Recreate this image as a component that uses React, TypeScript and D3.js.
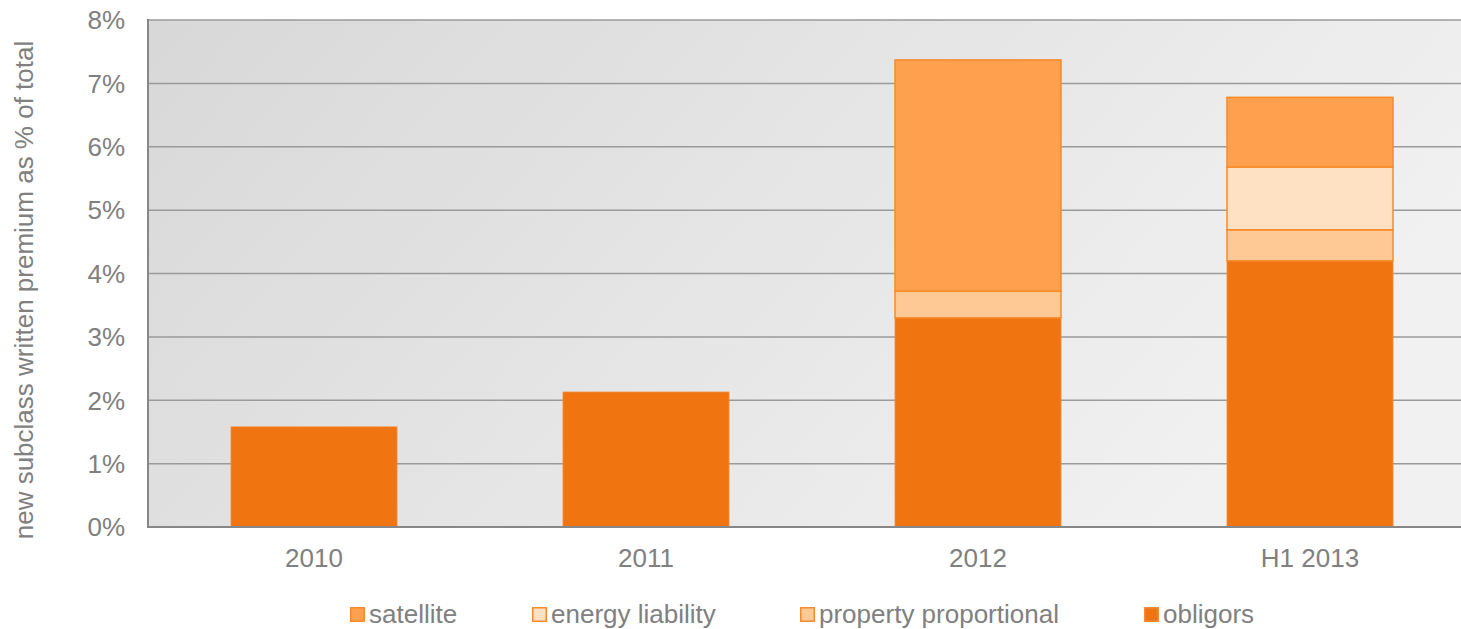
import React from "react";
import * as d3 from "d3";

const categories = ["2010", "2011", "2012", "H1 2013"];
const obligors = [1.58, 2.13, 3.3, 4.2];
const propertyProportional = [0, 0, 0.42, 0.49];
const energyLiability = [0, 0, 0, 0.99];
const satellite = [0, 0, 3.65, 1.1];
const yTicks = [0, 1, 2, 3, 4, 5, 6, 7, 8];

const seriesKeys = ["obligors", "propertyProportional", "energyLiability", "satellite"];
const seriesFill: Record<string, string> = {
  obligors: "#f07510",
  propertyProportional: "#fec994",
  energyLiability: "#fee1c3",
  satellite: "#fea04d",
};
const seriesStroke: Record<string, string> = {
  obligors: "#f58a3a",
  propertyProportional: "#f78a2a",
  energyLiability: "#f78a2a",
  satellite: "#f78a2a",
};
const legendItems = [
  { key: "satellite", label: "satellite", x: 350 },
  { key: "energyLiability", label: "energy liability", x: 532 },
  { key: "propertyProportional", label: "property proportional", x: 800 },
  { key: "obligors", label: "obligors", x: 1144 },
];

const W = 1461;
const H = 629;
const left = 148;
const top = 20;
const bottom = 527;
const right = 1476;

export default function App() {
  const table = categories.map((c, i) => ({
    cat: c,
    obligors: obligors[i],
    propertyProportional: propertyProportional[i],
    energyLiability: energyLiability[i],
    satellite: satellite[i],
  }));
  const stacked = d3.stack<any>().keys(seriesKeys)(table);

  const x = d3.scaleBand<string>().domain(categories).range([left, right]).paddingInner(0.5).paddingOuter(0.25);
  const y = d3.scaleLinear().domain([0, 8]).range([bottom, top]);
  const font = "Arial, 'Liberation Sans', sans-serif";
  const fs = 26;

  return (
    <svg width={W} height={H} style={{ position: "absolute", left: 0, top: 0, display: "block" }} fontFamily={font}>
      <defs>
        <linearGradient id="bg" x1="0" y1="0" x2="1" y2="0.35">
          <stop offset="0" stopColor="#d8d8d8" />
          <stop offset="1" stopColor="#f1f1f1" />
        </linearGradient>
      </defs>
      <rect x={left} y={top} width={right - left} height={bottom - top} fill="url(#bg)" />
      {yTicks.map((t) => (
        <line key={t} x1={left} x2={right} y1={y(t)} y2={y(t)} stroke="#9a9a9a" strokeWidth={1.5} />
      ))}
      {stacked.map((s) => (
        <g key={s.key}>
          {s.map((d, i) => {
            const h = y(d[0]) - y(d[1]);
            if (h <= 0) return null;
            return (
              <rect
                key={i}
                x={x(categories[i])!}
                y={y(d[1])}
                width={x.bandwidth()}
                height={h}
                fill={seriesFill[s.key]}
                stroke={seriesStroke[s.key]}
                strokeWidth={s.key === "obligors" ? 0.8 : 1.5}
              />
            );
          })}
        </g>
      ))}
      <line x1={left} x2={left} y1={top - 1} y2={bottom + 1} stroke="#878787" strokeWidth={2} />
      <line x1={left - 1} x2={right} y1={bottom} y2={bottom} stroke="#878787" strokeWidth={2} />
      {yTicks.map((t) => (
        <text key={t} x={125} y={y(t)} dy="0.36em" textAnchor="end" fontSize={fs} fill="#808080">
          {t}%
        </text>
      ))}
      {categories.map((c) => (
        <text key={c} x={x(c)! + x.bandwidth() / 2} y={558} dy="0.36em" textAnchor="middle" fontSize={fs} fill="#808080">
          {c}
        </text>
      ))}
      <text
        transform={`translate(24, 290) rotate(-90)`}
        dy="0.36em"
        textAnchor="middle"
        fontSize={fs}
        fill="#808080"
      >
        new subclass written premium as % of total
      </text>
      {legendItems.map((it) => (
        <g key={it.key}>
          <rect x={it.x + 0.75} y={607.75} width={13.5} height={13.5} fill={seriesFill[it.key]} stroke={seriesStroke[it.key]} strokeWidth={1.5} />
          <text x={it.x + 19} y={614} dy="0.36em" fontSize={fs} fill="#808080">
            {it.label}
          </text>
        </g>
      ))}
    </svg>
  );
}
